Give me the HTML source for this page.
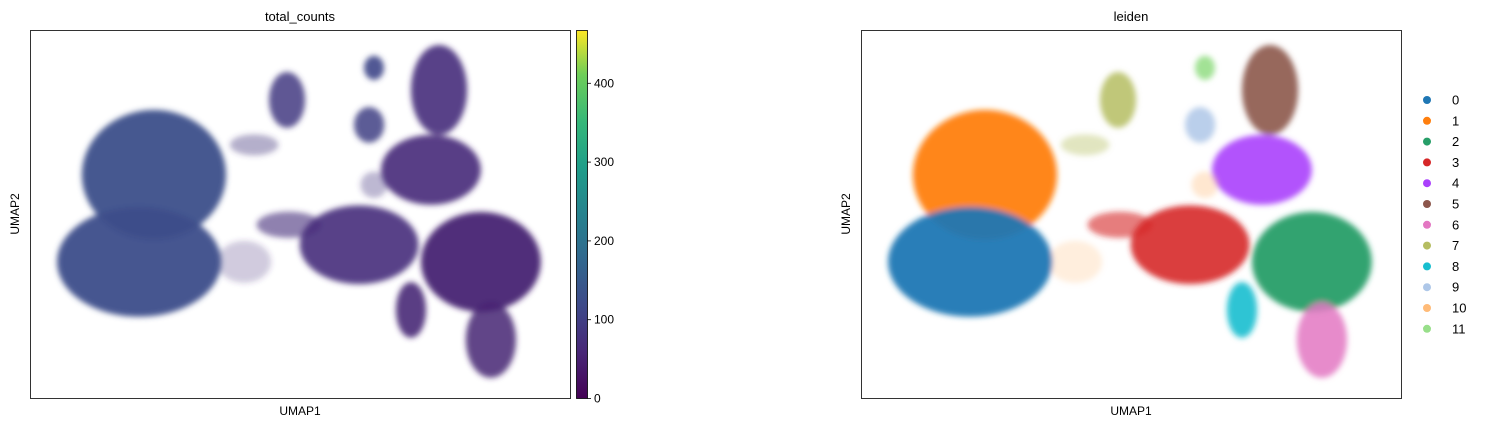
<!DOCTYPE html>
<html><head><meta charset="utf-8">
<style>
body{margin:0;background:#fff;width:1485px;height:429px;overflow:hidden;font-family:"Liberation Sans",sans-serif;}
svg text{font-family:"Liberation Sans",sans-serif;fill:#000;}
</style></head>
<body>
<svg id="fig" width="1485" height="429" viewBox="0 0 1485 429" xmlns="http://www.w3.org/2000/svg">
<defs>
<filter id="soft" x="-20%" y="-20%" width="140%" height="140%"><feGaussianBlur stdDeviation="3"/></filter>
<linearGradient id="viridis" x1="0" y1="1" x2="0" y2="0">
<stop offset="0" stop-color="#440154"/><stop offset="0.13" stop-color="#482878"/><stop offset="0.25" stop-color="#3e4989"/><stop offset="0.38" stop-color="#31688e"/><stop offset="0.5" stop-color="#26828e"/><stop offset="0.63" stop-color="#1f9e89"/><stop offset="0.75" stop-color="#35b779"/><stop offset="0.88" stop-color="#6ece58"/><stop offset="1" stop-color="#fde725"/>
</linearGradient>
</defs>
<g id="left"></g>
<g id="right"></g>
</svg>
<script>
// blob data (UMAP units)
const blobCluster = [10,1,0,2,3,3,4,5,6,7,7,8,9,10,11];
const blobX  = [5.93,2.59,2.04,14.7,10.19,7.59,12.85,13.15,15.07,7.52,6.3,12.11,10.56,10.74,10.74];
const blobY  = [-0.82,2.49,-0.82,-0.82,-0.17,0.59,2.68,5.72,-3.79,5.34,3.63,-2.65,4.39,2.11,6.56];
const blobRx = [1.0,2.67,3.04,2.22,2.2,1.2,1.85,1.04,0.93,0.67,0.9,0.56,0.56,0.5,0.37];
const blobRy = [0.8,2.47,2.09,1.9,1.5,0.5,1.33,1.71,1.44,1.06,0.4,1.06,0.68,0.5,0.46];
const blobCounts = [60,115,110,45,60,60,55,60,45,80,70,50,90,70,100];
const blobDensity = [0.25,0.95,0.95,0.95,0.9,0.6,0.9,0.9,0.85,0.85,0.4,0.9,0.85,0.35,0.9];
const clusterLabels = ["0","1","2","3","4","5","6","7","8","9","10","11"];
const clusterColors = ["#1f77b4","#ff7f0e","#279e68","#d62728","#aa40fc","#8c564b","#e377c2","#b5bd61","#17becf","#aec7e8","#ffbb78","#98df8a"];
const cbTicks = [0,100,200,300,400];
const cbMax = 467;

const NS="http://www.w3.org/2000/svg";
function mk(tag,attrs,parent){const e=document.createElementNS(NS,tag);for(const k in attrs)e.setAttribute(k,attrs[k]);parent.appendChild(e);return e;}
const xDom=[-2,18], yDom=[-6,8], W=540, H=368;
function sx(v,x0){return x0+(v-xDom[0])/(xDom[1]-xDom[0])*W;}
function sy(v){return 30+(yDom[1]-v)/(yDom[1]-yDom[0])*H;}
function srx(v){return v/(xDom[1]-xDom[0])*W;}
function sry(v){return v/(yDom[1]-yDom[0])*H;}
const vir=["#440154","#482878","#3e4989","#31688e","#26828e","#1f9e89","#35b779","#6ece58","#b5de2b","#fde725"];
function viridis(t){t=Math.max(0,Math.min(1,t));const i=Math.min(8,Math.floor(t*9));const f=t*9-i;
 const a=vir[i],b=vir[i+1];const p=s=>[1,3,5].map(j=>parseInt(s.substr(j,2),16));
 const A=p(a),B=p(b);return "rgb("+A.map((v,k)=>Math.round(v+(B[k]-v)*f)).join(",")+")";}

function panel(g,x0,title,colorFn){
  const t=mk("text",{x:x0+W/2,y:21,"text-anchor":"middle","font-size":"13"},g);t.textContent=title;
  
  
  const marks=mk("g",{filter:"url(#soft)"},g);
  
  
  for(let i=0;i<blobX.length;i++){
    const e=mk("ellipse",{cx:sx(blobX[i],x0),cy:sy(blobY[i]),rx:srx(blobRx[i]),ry:sry(blobRy[i]),fill:colorFn(i),"fill-opacity":blobDensity[i]},marks);
    
    
  }
  const r=mk("rect",{x:x0+0.5,y:30.5,width:W,height:H,fill:"none",stroke:"#000","stroke-width":"0.8"},g);
  
  
  const xl=mk("text",{x:x0+W/2,y:415,"text-anchor":"middle","font-size":"12"},g);xl.textContent="UMAP1";
  
  
  const yl=mk("text",{x:0,y:0,"text-anchor":"middle","font-size":"12",transform:"translate("+(x0-11)+","+(30+H/2)+") rotate(-90)"},g);yl.textContent="UMAP2";
  
  
}
const L=document.getElementById("left"), R=document.getElementById("right");
panel(L,30,"total_counts",i=>viridis(blobCounts[i]/cbMax));
panel(R,861,"leiden",i=>clusterColors[blobCluster[i]]);

// colorbar
const cb=mk("g",{},L);


mk("rect",{x:576.5,y:30.5,width:11,height:368,fill:"url(#viridis)",stroke:"#000","stroke-width":"0.8"},cb);
cbTicks.forEach(v=>{const y=398.5-v/cbMax*368;
 mk("line",{x1:587.5,x2:591,y1:y,y2:y,stroke:"#000","stroke-width":"0.8"},cb);
 const t=mk("text",{x:594,y:y+4,"font-size":"12"},cb);t.textContent=v;
 
 
});

// legend
const lg=mk("g",{},R);


clusterLabels.forEach((lab,i)=>{const y=100+i*20.8;
 const c=mk("circle",{cx:1427,cy:y,r:4,fill:clusterColors[i]},lg);
 
 
 const t=mk("text",{x:1452,y:y+4.5,"font-size":"13"},lg);t.textContent=lab;
 
 
});
</script>
</body></html>
